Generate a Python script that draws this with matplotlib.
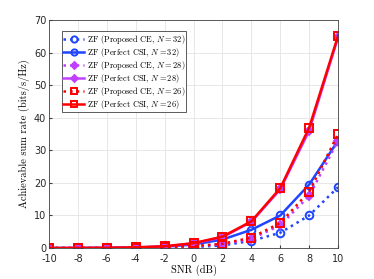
import matplotlib.pyplot as plt

snr = [-10, -8, -6, -4, -2, 0, 2, 4, 6, 8, 10]

ce_32 = [0.0, 0.0, 0.0, 0.05, 0.1, 0.3, 0.8, 2.2, 4.7, 10.0, 18.7]
pcsi_32 = [0.0, 0.0, 0.05, 0.15, 0.4, 1.1, 2.6, 5.6, 10.0, 19.5, 33.0]
ce_28 = [0.0, 0.0, 0.02, 0.08, 0.2, 0.5, 1.2, 2.8, 7.0, 16.0, 33.0]
pcsi_28 = [0.0, 0.02, 0.06, 0.2, 0.5, 1.4, 3.3, 8.0, 18.0, 36.0, 64.7]
ce_26 = [0.0, 0.0, 0.02, 0.1, 0.25, 0.6, 1.3, 3.2, 7.7, 17.3, 35.0]
pcsi_26 = [0.0, 0.02, 0.06, 0.2, 0.55, 1.5, 3.5, 8.2, 18.4, 37.0, 65.2]

labels = [
    r'ZF (Proposed CE, $N=32$)',
    r'ZF (Perfect CSI, $N=32$)',
    r'ZF (Proposed CE, $N=28$)',
    r'ZF (Perfect CSI, $N=28$)',
    r'ZF (Proposed CE, $N=26$)',
    r'ZF (Perfect CSI, $N=26$)',
]

blue = '#1f45ff'
purple = '#bf40ff'
red = '#ff0000'

plt.rcParams['mathtext.fontset'] = 'cm'
plt.rcParams['axes.unicode_minus'] = False
serif = ['cmr10', 'DejaVu Serif']

fig = plt.figure(figsize=(3.74, 2.79), dpi=100)
ax = fig.add_axes([0.131, 0.111, 0.773, 0.817])

series = [
    (ce_32, blue, ':', 'o', 'none'),
    (pcsi_32, blue, '-', 'o', 'none'),
    (ce_28, purple, ':', 'D', purple),
    (pcsi_28, purple, '-', 'D', purple),
    (ce_26, red, ':', 's', 'none'),
    (pcsi_26, red, '-', 's', 'none'),
]
for (y, c, ls, m, fc), lab in zip(series, labels):
    ax.plot(snr, y, color=c, linestyle=ls, marker=m, markersize=5.5 if m != 'D' else 4,
            markerfacecolor=fc, markeredgewidth=1.4, linewidth=1.8, label=lab)

ax.set_xlim(-10, 10)
ax.set_ylim(0, 70)
ax.set_xticks(snr)
ax.set_yticks(range(0, 71, 10))
ax.grid(True, color='#e3e3e3', linewidth=0.6)
ax.set_axisbelow(True)
ax.tick_params(labelsize=7, direction='in', length=2.5, color='#404040', labelcolor='#262626')
ax.tick_params(axis='x', pad=4)
ax.tick_params(axis='y', pad=2)
for s in ax.spines.values():
    s.set_color('#404040')
    s.set_linewidth(0.6)

ax.set_xlabel('SNR (dB)', family=serif, fontsize=7.5, labelpad=1)
ax.set_ylabel('Achievable sum rate (bits/s/Hz)', family=serif, fontsize=7.5, labelpad=3)

leg = ax.legend(loc='upper left', bbox_to_anchor=(0.045, 0.95), prop={'family': serif, 'size': 6.0},
                fancybox=False, edgecolor='#404040', handlelength=2.5, borderpad=0.15,
                labelspacing=0.0, handletextpad=0.3, framealpha=1, borderaxespad=0)
leg.get_frame().set_linewidth(0.6)
for h in leg.get_lines():
    h.set_markersize(4.5 if h.get_marker() != 'D' else 3.5)

fig.savefig('out.png', dpi=100)
